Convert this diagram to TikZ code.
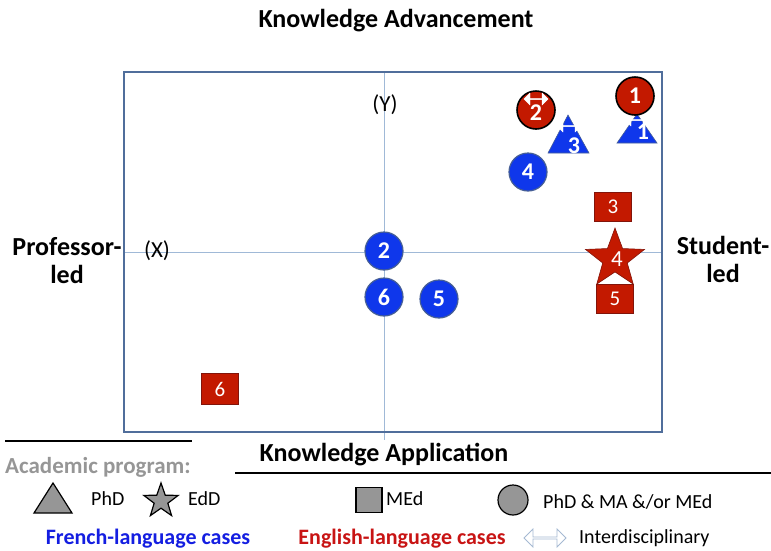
\documentclass[tikz,border=0pt]{standalone}
\usepackage{fontspec}
\setmainfont{Carlito}
\usetikzlibrary{shapes.geometric,shapes.arrows}
\definecolor{frameblue}{RGB}{80,110,155}
\definecolor{axisblue}{RGB}{160,185,215}
\definecolor{fillblue}{RGB}{15,55,235}
\definecolor{edgeblue}{RGB}{70,95,150}
\definecolor{fillred}{RGB}{195,25,0}
\definecolor{edgered}{RGB}{130,20,10}
\definecolor{txtblue}{RGB}{20,30,225}
\definecolor{txtred}{RGB}{200,20,20}
\definecolor{txtgray}{RGB}{150,150,150}
\definecolor{legfill}{RGB}{150,150,150}
\definecolor{arrowedge}{RGB}{165,185,210}
\tikzset{
  bluecirc/.style={circle,fill=fillblue,draw=edgeblue,line width=1.2pt,minimum size=38pt,inner sep=0pt,text=white,font=\bfseries\fontsize{24}{24}\selectfont},
  redcirc/.style={circle,fill=fillred,draw=black,line width=1.6pt,minimum size=38pt,inner sep=0pt,text=white,font=\bfseries\fontsize{24}{24}\selectfont},
  redsq/.style={rectangle,fill=fillred,draw=edgered,line width=0.6pt,minimum width=37pt,minimum height=29pt,inner sep=0pt,text=white,font=\fontsize{21}{21}\selectfont},
  numlab/.style={text=white,font=\bfseries\fontsize{24}{24}\selectfont,inner sep=0pt},
  whitearrow/.style={double arrow,fill=white,draw=white,minimum height=24pt,minimum width=12pt,double arrow head extend=2pt,inner sep=0pt},
  axlab/.style={font=\bfseries\fontsize{26}{28}\selectfont,align=center},
  headlab/.style={font=\bfseries\fontsize{26}{26}\selectfont},
  leglab/.style={font=\fontsize{20}{20}\selectfont,anchor=west,inner sep=0pt},
  caselab/.style={font=\bfseries\fontsize{22}{22}\selectfont,inner sep=0pt},
}
\begin{document}
\begin{tikzpicture}[x=1pt,y=-1pt]
\useasboundingbox (0,0) rectangle (771,550);
% axes
\draw[axisblue,line width=0.8pt] (124,252) -- (662,252);
\draw[axisblue,line width=0.8pt] (384,72) -- (384,440);
\draw[frameblue,line width=1.6pt] (124,72) rectangle (662,432);
% axis labels
\node[headlab] (ka) at (396,21) {Knowledge Advancement};
\node[headlab] (kapp) at (384,455) {Knowledge Application};
\node[axlab] (prof) at (67,261) {Professor-\\led};
\node[axlab] (stud) at (723,259) {Student-\\led};
\node[font=\fontsize{23}{23}\selectfont,inner sep=0pt] (xl) at (157,251) {(X)};
\node[font=\fontsize{23}{23}\selectfont,inner sep=0pt] (yl) at (385,105) {(Y)};
% French (blue) cases
\path[fill=fillblue,draw=edgeblue,line width=0.6pt] (617,143) -- (637,114) -- (657,143) -- cycle;
\node[whitearrow] (ia1) at (637,120) {};
\node[numlab] (t1) at (643,132) {1};
\path[fill=fillblue,draw=edgeblue,line width=0.6pt] (548,153) -- (568,115) -- (589,153) -- cycle;
\node[whitearrow] (ia3) at (569,126) {};
\node[numlab] (t3) at (574,146) {3};
\node[bluecirc] (b4) at (528,172) {4};
\node[bluecirc] (b2) at (384,251) {2};
\node[bluecirc] (b6) at (384,297) {6};
\node[bluecirc] (b5) at (439,299) {5};
% English (red) cases
\node[redcirc] (r1) at (635,96) {1};
\node[redcirc] (r2) at (536,110) {};
\node[whitearrow] (ia2) at (536,99) {};
\node[numlab] (r2n) at (536,113) {2};
\node[redsq] (s3) at (613,207) {3};
\node[star,star points=5,star point ratio=2.4,minimum size=62pt,inner sep=0pt,fill=fillred,draw=edgered,line width=0.6pt] (st4) at (615,259) {};
\node[text=white,font=\fontsize{23}{23}\selectfont,inner sep=0pt] (st4n) at (617,259) {4};
\node[redsq] (s5) at (615,299) {5};
\node[redsq,minimum height=31pt] (s6) at (220,389) {6};
% bottom rules
\draw[black,line width=2.4pt] (5,441) -- (192,441);
\draw[black,line width=2.4pt] (235,473) -- (771,473);
% legend
\node[font=\bfseries\fontsize{23}{23}\selectfont,inner sep=0pt,text=txtgray,anchor=west] (ap) at (5,467) {Academic program:};
\path[fill=legfill,draw=black,line width=1.2pt] (34,513) -- (53,483) -- (72,513) -- cycle;
\node[leglab] (lphd) at (91,499) {PhD};
\node[star,star points=5,star point ratio=2.5,minimum size=36pt,inner sep=0pt,fill=legfill,draw=black,line width=1.2pt] (lst) at (161,501) {};
\node[leglab] (ledd) at (188,499) {EdD};
\node[rectangle,fill=legfill,draw=black,line width=1.2pt,minimum width=26pt,minimum height=25pt,inner sep=0pt] (lsq) at (369,500) {};
\node[leglab] (lmed) at (386,499) {MEd};
\node[circle,fill=legfill,draw=black,line width=1.2pt,minimum size=30pt,inner sep=0pt] (lci) at (513,500) {};
\node[leglab] (lpm) at (543,502) {PhD \& MA \&/or MEd};
\node[caselab,text=txtblue] (fr) at (148,539) {French-language cases};
\node[caselab,text=txtred] (en) at (402,539) {English-language cases};
\node[double arrow,fill=white,draw=arrowedge,line width=0.8pt,minimum height=42pt,minimum width=18pt,double arrow head extend=3pt,inner sep=0pt] (larr) at (545,538) {};
\node[leglab] (lint) at (579,538) {Interdisciplinary};
\end{tikzpicture}
\end{document}
